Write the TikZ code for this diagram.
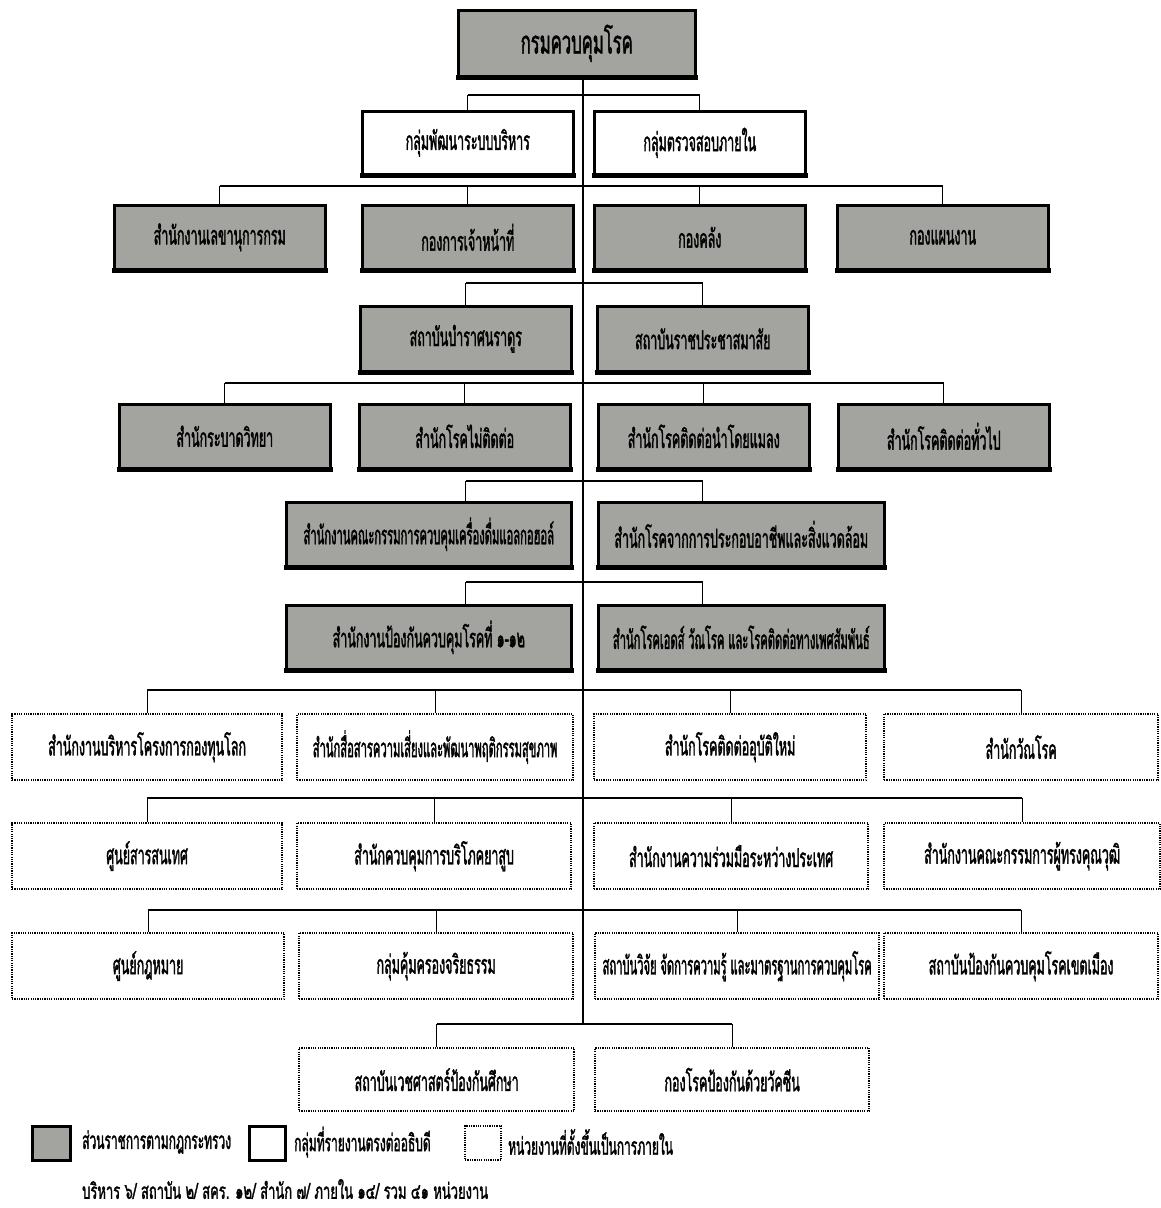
\documentclass[tikz,border=0pt]{standalone}
\usepackage{fontspec}
\newfontfamily\thai[Script=Thai,FakeStretch=0.48,FakeBold=1.3]{Loma}
\newfontfamily\thain[Script=Thai,FakeStretch=0.43,FakeBold=1.3]{Loma}
\newfontfamily\thaitop[Script=Thai,FakeStretch=0.52,FakeBold=1.3]{Loma}
\newfontfamily\thaileg[Script=Thai,FakeStretch=0.5,FakeBold=1.3]{Loma}
\newfontfamily\thaifoot[Script=Thai,FakeStretch=0.59,FakeBold=1.3]{Loma}
\definecolor{boxgray}{RGB}{163,163,160}
\begin{document}
\begin{tikzpicture}[x=1pt,y=-1pt,
  base/.style={rectangle,inner sep=0pt,font=\thai\fontsize{26}{30}\selectfont,anchor=north west},
  narrow/.style={font=\thain\fontsize{26}{30}\selectfont},
  grayb/.style={base,draw=black,line width=2.6pt,fill=boxgray},
  whiteb/.style={base,draw=black,line width=2.6pt,fill=white},
  dashb/.style={base,draw=black,line width=2.3pt,dash pattern=on 1.2pt off 1.1pt,fill=white},
  conn/.style={draw=black,line width=1.1pt},
  bar/.style={draw=black,line width=2.6pt},
  thickbottom/.style={draw=black,line width=4.5pt},
  lgtext/.style={font=\thaileg\fontsize{24}{28}\selectfont,anchor=west,inner sep=0pt}]
\useasboundingbox (0,0) rectangle (1161,1208);
% top
\node[grayb,minimum width=237pt,minimum height=66pt,font=\thaitop\fontsize{32}{36}\selectfont] (top) at (457,9) {กรมควบคุมโรค};
% row 2
\node[whiteb,minimum width=211pt,minimum height=63pt] (r2a) at (361,110) {กลุ่มพัฒนาระบบบริหาร};
\node[whiteb,minimum width=211pt,minimum height=63pt] (r2b) at (593,110) {กลุ่มตรวจสอบภายใน};
% row 3
\node[grayb,minimum width=211pt,minimum height=64pt] (r3a) at (113,204) {สำนักงานเลขานุการกรม};
\node[grayb,minimum width=211pt,minimum height=64pt] (r3b) at (361,204) {กองการเจ้าหน้าที่};
\node[grayb,minimum width=211pt,minimum height=64pt] (r3c) at (593,204) {กองคลัง};
\node[grayb,minimum width=211pt,minimum height=64pt] (r3d) at (836,204) {กองแผนงาน};
% row 4
\node[grayb,minimum width=211pt,minimum height=65pt] (r4a) at (359,305) {สถาบันบำราศนราดูร};
\node[grayb,minimum width=211pt,minimum height=65pt] (r4b) at (596,305) {สถาบันราชประชาสมาสัย};
% row 5
\node[grayb,minimum width=211pt,minimum height=64pt] (r5a) at (118,403) {สำนักระบาดวิทยา};
\node[grayb,minimum width=211pt,minimum height=64pt] (r5b) at (358,403) {สำนักโรคไม่ติดต่อ};
\node[grayb,minimum width=211pt,minimum height=64pt] (r5c) at (597,403) {สำนักโรคติดต่อนำโดยแมลง};
\node[grayb,minimum width=211pt,minimum height=64pt] (r5d) at (837,403) {สำนักโรคติดต่อทั่วไป};
% row 6
\node[grayb,narrow,minimum width=285pt,minimum height=64pt] (r6a) at (285,501) {สำนักงานคณะกรรมการควบคุมเครื่องดื่มแอลกอฮอล์};
\node[grayb,minimum width=286pt,minimum height=64pt] (r6b) at (597,501) {สำนักโรคจากการประกอบอาชีพและสิ่งแวดล้อม};
% row 7
\node[grayb,minimum width=285pt,minimum height=64pt] (r7a) at (285,604) {สำนักงานป้องกันควบคุมโรคที่ ๑-๑๒};
\node[grayb,narrow,minimum width=286pt,minimum height=64pt] (r7b) at (597,604) {สำนักโรคเอดส์ วัณโรค และโรคติดต่อทางเพศสัมพันธ์};
% row 8
\node[dashb,minimum width=270pt,minimum height=66pt] (r8a) at (11,713) {สำนักงานบริหารโครงการกองทุนโลก};
\node[dashb,narrow,minimum width=276pt,minimum height=66pt] (r8b) at (296,713) {สำนักสื่อสารความเสี่ยงและพัฒนาพฤติกรรมสุขภาพ};
\node[dashb,minimum width=272pt,minimum height=66pt] (r8c) at (593,713) {สำนักโรคติดต่ออุบัติใหม่};
\node[dashb,minimum width=274pt,minimum height=66pt] (r8d) at (883,713) {สำนักวัณโรค};
% row 9
\node[dashb,minimum width=270pt,minimum height=66pt] (r9a) at (11,822) {ศูนย์สารสนเทศ};
\node[dashb,minimum width=274pt,minimum height=66pt] (r9b) at (296,822) {สำนักควบคุมการบริโภคยาสูบ};
\node[dashb,minimum width=274pt,minimum height=66pt] (r9c) at (593,822) {สำนักงานความร่วมมือระหว่างประเทศ};
\node[dashb,minimum width=276pt,minimum height=66pt] (r9d) at (883,822) {สำนักงานคณะกรรมการผู้ทรงคุณวุฒิ};
% row 10
\node[dashb,minimum width=272pt,minimum height=66pt] (r10a) at (11,932) {ศูนย์กฎหมาย};
\node[dashb,minimum width=274pt,minimum height=66pt] (r10b) at (298,932) {กลุ่มคุ้มครองจริยธรรม};
\node[dashb,narrow,minimum width=284pt,minimum height=66pt] (r10c) at (594,932) {สถาบันวิจัย จัดการความรู้ และมาตรฐานการควบคุมโรค};
\node[dashb,minimum width=274pt,minimum height=66pt] (r10d) at (883,932) {สถาบันป้องกันควบคุมโรคเขตเมือง};
% row 11
\node[dashb,minimum width=275pt,minimum height=63pt] (r11a) at (298,1047) {สถาบันเวชศาสตร์ป้องกันศึกษา};
\node[dashb,minimum width=274pt,minimum height=63pt] (r11b) at (594,1047) {กองโรคป้องกันด้วยวัคซีน};
% thicker bottom edges of solid boxes
\foreach \n in {top,r2a,r2b,r3a,r3b,r3c,r3d,r4a,r4b,r5a,r5b,r5c,r5d,r6a,r6b,r7a,r7b}
  \draw[thickbottom] ([xshift=-1.3pt]\n.south west) -- ([xshift=1.3pt]\n.south east);
% trunk
\coordinate (tb) at (583,1024);
\draw[conn] (top.south -| tb) -- (tb);
% row 2 connectors
\draw[bar] (r2a.north |- 0,95) -- (r2b.north |- 0,95);
\foreach \n in {r2a,r2b} \draw[conn] (\n.north |- 0,95) -- (\n.north);
% row 3
\draw[bar] (r3a.north |- 0,186) -- (r3d.north |- 0,186);
\foreach \n in {r3a,r3b,r3c,r3d} \draw[conn] (\n.north |- 0,186) -- (\n.north);
% row 4
\draw[bar] (r4a.north |- 0,283) -- (r4b.north |- 0,283);
\foreach \n in {r4a,r4b} \draw[conn] (\n.north |- 0,283) -- (\n.north);
% row 5
\draw[bar] (r5a.north |- 0,383) -- (r5d.north |- 0,383);
\foreach \n in {r5a,r5b,r5c,r5d} \draw[conn] (\n.north |- 0,383) -- (\n.north);
% row 6
\draw[bar] (r4a.north |- 0,481) -- (r4b.north |- 0,481);
\foreach \n/\m in {r6a/r4a,r6b/r4b} \draw[conn] (\m.north |- 0,481) -- (\n.north -| \m.north);
% row 7
\draw[bar] (r4a.north |- 0,582) -- (r4b.north |- 0,582);
\foreach \n/\m in {r7a/r4a,r7b/r4b} \draw[conn] (\m.north |- 0,582) -- (\n.north -| \m.north);
% row 8
\draw[bar] (r8a.north |- 0,690) -- (r8d.north |- 0,690);
\foreach \n in {r8a,r8b,r8c,r8d} \draw[conn] (\n.north |- 0,690) -- (\n.north);
% row 9
\draw[bar] (r9a.north |- 0,798) -- (r9d.north |- 0,798);
\foreach \n in {r9a,r9b,r9c,r9d} \draw[conn] (\n.north |- 0,798) -- (\n.north);
% row 10
\draw[bar] (r10a.north |- 0,910) -- (r10d.north |- 0,910);
\foreach \n in {r10a,r10b,r10c,r10d} \draw[conn] (\n.north |- 0,910) -- (\n.north);
% row 11
\draw[bar] (r11a.north |- tb) -- (r11b.north |- tb);
\foreach \n in {r11a,r11b} \draw[conn] (\n.north |- tb) -- (\n.north);
% legend
\node[grayb,minimum width=38pt,minimum height=34pt] (lg1) at (31,1125) {};
\node[lgtext] (lt1) at (82,1142) {ส่วนราชการตามกฎกระทรวง};
\node[whiteb,minimum width=36pt,minimum height=34pt] (lg2) at (248,1125) {};
\node[lgtext] (lt2) at (294,1142) {กลุ่มที่รายงานตรงต่ออธิบดี};
\node[dashb,minimum width=36pt,minimum height=34pt] (lg3) at (464,1125) {};
\node[lgtext] (lt3) at (508,1142) {หน่วยงานที่ตั้งขึ้นเป็นการภายใน};
\node[lgtext,font=\thaifoot\fontsize{22}{26}\selectfont] (foot) at (82,1189) {บริหาร ๖/ สถาบัน ๒/ สคร. ๑๒/ สำนัก ๗/ ภายใน ๑๔/ รวม ๔๑ หน่วยงาน};
\end{tikzpicture}
\end{document}
